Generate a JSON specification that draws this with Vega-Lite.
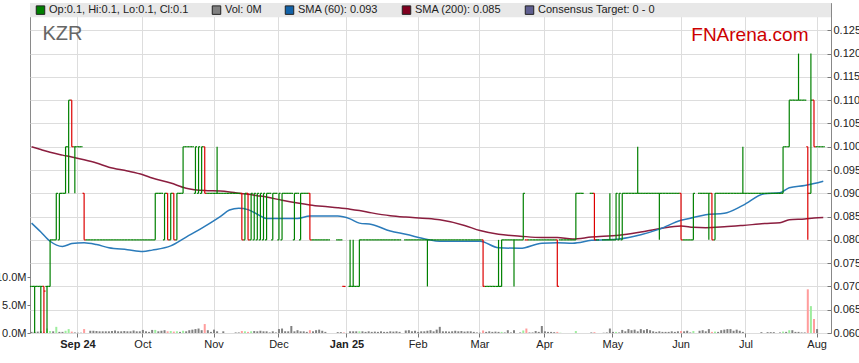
{
"$schema":"https://vega.github.io/schema/vega-lite/v6.json",
"width":801,"height":330,
"autosize":{"type":"none"},
"padding":{"left":30,"top":3,"right":28,"bottom":30},
"background":"white",
"datasets":{
"px":[
{"d":"2024-08-12","o":0.07,"h":0.07,"l":0.07,"c":0.07,"v":0.2},
{"d":"2024-08-13","o":0.07,"h":0.07,"l":0.06,"c":0.07,"v":0.2},
{"d":"2024-08-14","o":0.07,"h":0.07,"l":0.07,"c":0.07,"v":0.25},
{"d":"2024-08-15","o":0.07,"h":0.07,"l":0.06,"c":0.07,"v":0.3},
{"d":"2024-08-16","o":0.07,"h":0.07,"l":0.06,"c":0.069,"v":0.2},
{"d":"2024-08-19","o":0.07,"h":0.07,"l":0.06,"c":0.07,"v":0.8},
{"d":"2024-08-20","o":0.07,"h":0.08,"l":0.07,"c":0.08,"v":0.35},
{"d":"2024-08-21","o":0.08,"h":0.08,"l":0.08,"c":0.08,"v":0.3},
{"d":"2024-08-22","o":0.08,"h":0.09,"l":0.08,"c":0.09,"v":1.1},
{"d":"2024-08-23","o":0.08,"h":0.09,"l":0.08,"c":0.09,"v":0.2},
{"d":"2024-08-26","o":0.09,"h":0.09,"l":0.09,"c":0.09,"v":0.2},
{"d":"2024-08-27","o":0.09,"h":0.1,"l":0.09,"c":0.1,"v":0.4},
{"d":"2024-08-28","o":0.1,"h":0.11,"l":0.09,"c":0.11,"v":0.7},
{"d":"2024-08-29","o":0.11,"h":0.11,"l":0.1,"c":0.1,"v":0.25},
{"d":"2024-08-30","o":0.1,"h":0.1,"l":0.09,"c":0.1,"v":0.1},
{"d":"2024-09-02","o":0.1,"h":0.1,"l":0.1,"c":0.1,"v":0.05},
{"d":"2024-09-03","o":0.1,"h":0.1,"l":0.1,"c":0.1,"v":0.05},
{"d":"2024-09-04","o":0.09,"h":0.09,"l":0.08,"c":0.08,"v":0.7},
{"d":"2024-09-05","o":0.08,"h":0.08,"l":0.08,"c":0.08,"v":0},
{"d":"2024-09-06","o":0.08,"h":0.08,"l":0.08,"c":0.08,"v":0.4},
{"d":"2024-09-09","o":0.08,"h":0.08,"l":0.08,"c":0.08,"v":0.4},
{"d":"2024-09-10","o":0.08,"h":0.08,"l":0.08,"c":0.08,"v":0.35},
{"d":"2024-09-11","o":0.08,"h":0.08,"l":0.08,"c":0.08,"v":0.3},
{"d":"2024-09-12","o":0.08,"h":0.08,"l":0.08,"c":0.08,"v":0.3},
{"d":"2024-09-13","o":0.08,"h":0.08,"l":0.08,"c":0.08,"v":0.3},
{"d":"2024-09-16","o":0.08,"h":0.08,"l":0.08,"c":0.08,"v":0.3},
{"d":"2024-09-17","o":0.08,"h":0.08,"l":0.08,"c":0.08,"v":0.35},
{"d":"2024-09-18","o":0.08,"h":0.08,"l":0.08,"c":0.08,"v":0.45},
{"d":"2024-09-19","o":0.08,"h":0.08,"l":0.08,"c":0.08,"v":0.3},
{"d":"2024-09-20","o":0.08,"h":0.08,"l":0.08,"c":0.08,"v":0.3},
{"d":"2024-09-23","o":0.08,"h":0.08,"l":0.08,"c":0.08,"v":0.35},
{"d":"2024-09-24","o":0.08,"h":0.08,"l":0.08,"c":0.08,"v":0.3},
{"d":"2024-09-25","o":0.08,"h":0.08,"l":0.08,"c":0.08,"v":0.3},
{"d":"2024-09-26","o":0.08,"h":0.08,"l":0.08,"c":0.08,"v":0.45},
{"d":"2024-09-27","o":0.08,"h":0.08,"l":0.08,"c":0.08,"v":0.3},
{"d":"2024-09-30","o":0.08,"h":0.08,"l":0.08,"c":0.08,"v":0.3},
{"d":"2024-10-01","o":0.08,"h":0.08,"l":0.08,"c":0.08,"v":0.55},
{"d":"2024-10-02","o":0.08,"h":0.08,"l":0.08,"c":0.08,"v":0.3},
{"d":"2024-10-03","o":0.08,"h":0.08,"l":0.08,"c":0.08,"v":0.2},
{"d":"2024-10-04","o":0.08,"h":0.08,"l":0.08,"c":0.08,"v":0.55},
{"d":"2024-10-07","o":0.08,"h":0.09,"l":0.08,"c":0.09,"v":0.55},
{"d":"2024-10-08","o":0.09,"h":0.09,"l":0.09,"c":0.09,"v":0.3},
{"d":"2024-10-09","o":0.09,"h":0.09,"l":0.09,"c":0.09,"v":0.4},
{"d":"2024-10-10","o":0.08,"h":0.09,"l":0.08,"c":0.09,"v":0.5},
{"d":"2024-10-11","o":0.09,"h":0.09,"l":0.08,"c":0.08,"v":0.3},
{"d":"2024-10-14","o":0.08,"h":0.09,"l":0.08,"c":0.09,"v":0.35},
{"d":"2024-10-15","o":0.09,"h":0.09,"l":0.08,"c":0.08,"v":0.25},
{"d":"2024-10-16","o":0.08,"h":0.09,"l":0.08,"c":0.09,"v":0.3},
{"d":"2024-10-17","o":0.09,"h":0.09,"l":0.09,"c":0.09,"v":0.2},
{"d":"2024-10-18","o":0.09,"h":0.1,"l":0.09,"c":0.1,"v":0.4},
{"d":"2024-10-21","o":0.1,"h":0.1,"l":0.1,"c":0.1,"v":0.3},
{"d":"2024-10-22","o":0.1,"h":0.1,"l":0.1,"c":0.1,"v":0.5},
{"d":"2024-10-23","o":0.1,"h":0.1,"l":0.1,"c":0.1,"v":0.6},
{"d":"2024-10-24","o":0.09,"h":0.1,"l":0.09,"c":0.1,"v":0.7},
{"d":"2024-10-25","o":0.09,"h":0.1,"l":0.09,"c":0.1,"v":0.8},
{"d":"2024-10-28","o":0.09,"h":0.1,"l":0.09,"c":0.1,"v":0.5},
{"d":"2024-10-29","o":0.1,"h":0.1,"l":0.09,"c":0.09,"v":1.6},
{"d":"2024-10-30","o":0.09,"h":0.09,"l":0.09,"c":0.09,"v":0.5},
{"d":"2024-10-31","o":0.09,"h":0.09,"l":0.09,"c":0.09,"v":0.2},
{"d":"2024-11-01","o":0.09,"h":0.09,"l":0.09,"c":0.09,"v":0.6},
{"d":"2024-11-04","o":0.09,"h":0.1,"l":0.09,"c":0.09,"v":0.3},
{"d":"2024-11-05","o":0.09,"h":0.09,"l":0.09,"c":0.09,"v":0},
{"d":"2024-11-06","o":0.09,"h":0.09,"l":0.09,"c":0.09,"v":0.3},
{"d":"2024-11-07","o":0.09,"h":0.09,"l":0.09,"c":0.09,"v":0},
{"d":"2024-11-08","o":0.09,"h":0.09,"l":0.09,"c":0.09,"v":0},
{"d":"2024-11-11","o":0.09,"h":0.09,"l":0.09,"c":0.09,"v":0},
{"d":"2024-11-12","o":0.09,"h":0.09,"l":0.09,"c":0.09,"v":0.1},
{"d":"2024-11-13","o":0.09,"h":0.09,"l":0.09,"c":0.09,"v":0.1},
{"d":"2024-11-14","o":0.09,"h":0.09,"l":0.08,"c":0.08,"v":0.35},
{"d":"2024-11-15","o":0.08,"h":0.09,"l":0.08,"c":0.09,"v":0.3},
{"d":"2024-11-18","o":0.09,"h":0.09,"l":0.08,"c":0.08,"v":0.2},
{"d":"2024-11-19","o":0.08,"h":0.09,"l":0.08,"c":0.09,"v":0.3},
{"d":"2024-11-20","o":0.08,"h":0.09,"l":0.08,"c":0.09,"v":0.35},
{"d":"2024-11-21","o":0.08,"h":0.09,"l":0.08,"c":0.09,"v":0.3},
{"d":"2024-11-22","o":0.08,"h":0.09,"l":0.08,"c":0.09,"v":0.4},
{"d":"2024-11-25","o":0.08,"h":0.09,"l":0.08,"c":0.09,"v":0.3},
{"d":"2024-11-26","o":0.08,"h":0.09,"l":0.08,"c":0.09,"v":0.3},
{"d":"2024-11-27","o":0.09,"h":0.09,"l":0.09,"c":0.09,"v":0.1},
{"d":"2024-11-28","o":0.08,"h":0.09,"l":0.08,"c":0.09,"v":0.3},
{"d":"2024-11-29","o":0.09,"h":0.09,"l":0.09,"c":0.09,"v":0.1},
{"d":"2024-12-02","o":0.08,"h":0.09,"l":0.08,"c":0.09,"v":0.7},
{"d":"2024-12-03","o":0.08,"h":0.09,"l":0.08,"c":0.09,"v":0.8},
{"d":"2024-12-04","o":0.09,"h":0.09,"l":0.09,"c":0.09,"v":0.3},
{"d":"2024-12-05","o":0.09,"h":0.09,"l":0.09,"c":0.09,"v":0.3},
{"d":"2024-12-06","o":0.09,"h":0.09,"l":0.09,"c":0.09,"v":1.25},
{"d":"2024-12-09","o":0.08,"h":0.09,"l":0.08,"c":0.09,"v":0.3},
{"d":"2024-12-10","o":0.09,"h":0.09,"l":0.09,"c":0.09,"v":0.5},
{"d":"2024-12-11","o":0.08,"h":0.09,"l":0.08,"c":0.09,"v":0.3},
{"d":"2024-12-12","o":0.09,"h":0.09,"l":0.09,"c":0.09,"v":0.3},
{"d":"2024-12-13","o":0.09,"h":0.09,"l":0.09,"c":0.09,"v":0.2},
{"d":"2024-12-16","o":0.09,"h":0.09,"l":0.08,"c":0.08,"v":0.5},
{"d":"2024-12-17","o":0.08,"h":0.08,"l":0.08,"c":0.08,"v":0.3},
{"d":"2024-12-18","o":0.08,"h":0.08,"l":0.08,"c":0.08,"v":0.5},
{"d":"2024-12-19","o":0.08,"h":0.08,"l":0.08,"c":0.08,"v":0.6},
{"d":"2024-12-20","o":0.08,"h":0.08,"l":0.08,"c":0.08,"v":0.4},
{"d":"2024-12-23","o":0.08,"h":0.08,"l":0.08,"c":0.08,"v":0.2},
{"d":"2024-12-24","o":0.08,"h":0.08,"l":0.08,"c":0.08,"v":0},
{"d":"2024-12-25","v":0},
{"d":"2024-12-26","v":0},
{"d":"2024-12-27","o":0.08,"h":0.08,"l":0.08,"c":0.08,"v":0.15},
{"d":"2024-12-30","o":0.08,"h":0.08,"l":0.08,"c":0.08,"v":0.15},
{"d":"2024-12-31","o":0.07,"h":0.07,"l":0.07,"c":0.07,"v":0.1},
{"d":"2025-01-01","v":0},
{"d":"2025-01-02","o":0.07,"h":0.08,"l":0.07,"c":0.07,"v":0.3},
{"d":"2025-01-03","o":0.07,"h":0.08,"l":0.07,"c":0.07,"v":0.3},
{"d":"2025-01-06","o":0.07,"h":0.07,"l":0.07,"c":0.07,"v":0.3},
{"d":"2025-01-07","o":0.07,"h":0.08,"l":0.07,"c":0.08,"v":0.3},
{"d":"2025-01-08","o":0.08,"h":0.08,"l":0.08,"c":0.08,"v":0.3},
{"d":"2025-01-09","o":0.08,"h":0.08,"l":0.08,"c":0.08,"v":0.2},
{"d":"2025-01-10","o":0.08,"h":0.08,"l":0.08,"c":0.08,"v":0.3},
{"d":"2025-01-13","o":0.08,"h":0.08,"l":0.08,"c":0.08,"v":0.2},
{"d":"2025-01-14","o":0.08,"h":0.08,"l":0.08,"c":0.08,"v":0.25},
{"d":"2025-01-15","o":0.08,"h":0.08,"l":0.08,"c":0.08,"v":0.2},
{"d":"2025-01-16","o":0.08,"h":0.08,"l":0.08,"c":0.08,"v":0.3},
{"d":"2025-01-17","o":0.08,"h":0.08,"l":0.08,"c":0.08,"v":0.2},
{"d":"2025-01-20","o":0.08,"h":0.08,"l":0.08,"c":0.08,"v":0.2},
{"d":"2025-01-21","o":0.08,"h":0.08,"l":0.08,"c":0.08,"v":0.3},
{"d":"2025-01-22","o":0.08,"h":0.08,"l":0.08,"c":0.08,"v":0.25},
{"d":"2025-01-23","o":0.08,"h":0.08,"l":0.08,"c":0.08,"v":0.3},
{"d":"2025-01-24","o":0.08,"h":0.08,"l":0.08,"c":0.08,"v":0.2},
{"d":"2025-01-27","v":0},
{"d":"2025-01-28","o":0.08,"h":0.08,"l":0.08,"c":0.08,"v":0.45},
{"d":"2025-01-29","o":0.08,"h":0.08,"l":0.08,"c":0.08,"v":0.5},
{"d":"2025-01-30","o":0.08,"h":0.08,"l":0.08,"c":0.08,"v":0.3},
{"d":"2025-01-31","o":0.08,"h":0.08,"l":0.08,"c":0.08,"v":0.4},
{"d":"2025-02-03","o":0.08,"h":0.08,"l":0.08,"c":0.08,"v":0.2},
{"d":"2025-02-04","o":0.08,"h":0.08,"l":0.08,"c":0.08,"v":0.3},
{"d":"2025-02-05","o":0.08,"h":0.08,"l":0.08,"c":0.08,"v":0.3},
{"d":"2025-02-06","o":0.08,"h":0.08,"l":0.07,"c":0.08,"v":0.4},
{"d":"2025-02-07","o":0.08,"h":0.08,"l":0.08,"c":0.08,"v":0.5},
{"d":"2025-02-10","o":0.08,"h":0.08,"l":0.08,"c":0.08,"v":0.3},
{"d":"2025-02-11","o":0.08,"h":0.08,"l":0.08,"c":0.08,"v":0.6},
{"d":"2025-02-12","o":0.08,"h":0.08,"l":0.08,"c":0.08,"v":1.1},
{"d":"2025-02-13","o":0.08,"h":0.08,"l":0.08,"c":0.08,"v":0.3},
{"d":"2025-02-14","o":0.08,"h":0.08,"l":0.08,"c":0.08,"v":0.3},
{"d":"2025-02-17","o":0.08,"h":0.08,"l":0.08,"c":0.08,"v":0.25},
{"d":"2025-02-18","o":0.08,"h":0.08,"l":0.08,"c":0.08,"v":0.3},
{"d":"2025-02-19","o":0.08,"h":0.08,"l":0.08,"c":0.08,"v":0.4},
{"d":"2025-02-20","o":0.08,"h":0.08,"l":0.08,"c":0.08,"v":0.3},
{"d":"2025-02-21","o":0.08,"h":0.08,"l":0.08,"c":0.08,"v":0.35},
{"d":"2025-02-24","o":0.08,"h":0.08,"l":0.08,"c":0.08,"v":0.25},
{"d":"2025-02-25","o":0.08,"h":0.08,"l":0.08,"c":0.08,"v":0.3},
{"d":"2025-02-26","o":0.08,"h":0.08,"l":0.08,"c":0.08,"v":0.3},
{"d":"2025-02-27","o":0.08,"h":0.08,"l":0.08,"c":0.08,"v":0.2},
{"d":"2025-02-28","o":0.08,"h":0.08,"l":0.08,"c":0.08,"v":0.1},
{"d":"2025-03-03","o":0.08,"h":0.08,"l":0.08,"c":0.08,"v":0.05},
{"d":"2025-03-04","o":0.08,"h":0.08,"l":0.07,"c":0.07,"v":0.45},
{"d":"2025-03-05","o":0.07,"h":0.07,"l":0.07,"c":0.07,"v":0.2},
{"d":"2025-03-06","o":0.07,"h":0.07,"l":0.07,"c":0.07,"v":0.3},
{"d":"2025-03-07","o":0.07,"h":0.07,"l":0.07,"c":0.07,"v":0.2},
{"d":"2025-03-10","o":0.07,"h":0.07,"l":0.07,"c":0.07,"v":0.25},
{"d":"2025-03-11","o":0.07,"h":0.08,"l":0.07,"c":0.07,"v":0.2},
{"d":"2025-03-12","o":0.07,"h":0.08,"l":0.07,"c":0.08,"v":0.2},
{"d":"2025-03-13","o":0.08,"h":0.08,"l":0.08,"c":0.08,"v":0.1},
{"d":"2025-03-14","o":0.08,"h":0.08,"l":0.08,"c":0.08,"v":0.5},
{"d":"2025-03-17","o":0.08,"h":0.08,"l":0.08,"c":0.08,"v":0.1},
{"d":"2025-03-18","o":0.08,"h":0.08,"l":0.07,"c":0.08,"v":0.5},
{"d":"2025-03-19","o":0.08,"h":0.08,"l":0.08,"c":0.08,"v":0},
{"d":"2025-03-20","o":0.08,"h":0.08,"l":0.08,"c":0.08,"v":0.1},
{"d":"2025-03-21","o":0.08,"h":0.09,"l":0.08,"c":0.09,"v":0.45},
{"d":"2025-03-24","o":0.08,"h":0.08,"l":0.08,"c":0.08,"v":0.8},
{"d":"2025-03-25","o":0.08,"h":0.08,"l":0.08,"c":0.08,"v":0.1},
{"d":"2025-03-26","o":0.08,"h":0.08,"l":0.08,"c":0.08,"v":0.1},
{"d":"2025-03-27","o":0.08,"h":0.08,"l":0.08,"c":0.08,"v":0.35},
{"d":"2025-03-28","o":0.08,"h":0.08,"l":0.08,"c":0.08,"v":0.2},
{"d":"2025-03-31","o":0.08,"h":0.08,"l":0.08,"c":0.08,"v":1.25},
{"d":"2025-04-01","o":0.08,"h":0.08,"l":0.08,"c":0.08,"v":0.3},
{"d":"2025-04-02","o":0.08,"h":0.08,"l":0.08,"c":0.08,"v":0.2},
{"d":"2025-04-03","o":0.08,"h":0.08,"l":0.08,"c":0.08,"v":0.2},
{"d":"2025-04-04","o":0.08,"h":0.08,"l":0.08,"c":0.08,"v":0.15},
{"d":"2025-04-07","o":0.08,"h":0.08,"l":0.07,"c":0.07,"v":0.2},
{"d":"2025-04-08","o":0.08,"h":0.08,"l":0.08,"c":0.08,"v":0.05},
{"d":"2025-04-09","o":0.08,"h":0.08,"l":0.08,"c":0.08,"v":0},
{"d":"2025-04-10","o":0.08,"h":0.08,"l":0.08,"c":0.08,"v":0},
{"d":"2025-04-11","o":0.08,"h":0.08,"l":0.08,"c":0.08,"v":0},
{"d":"2025-04-14","o":0.08,"h":0.08,"l":0.08,"c":0.08,"v":0},
{"d":"2025-04-15","o":0.08,"h":0.09,"l":0.08,"c":0.09,"v":0.35},
{"d":"2025-04-16","o":0.09,"h":0.09,"l":0.09,"c":0.09,"v":0},
{"d":"2025-04-17","o":0.09,"h":0.09,"l":0.09,"c":0.09,"v":0},
{"d":"2025-04-18","v":0},
{"d":"2025-04-21","v":0},
{"d":"2025-04-22","o":0.09,"h":0.09,"l":0.09,"c":0.09,"v":0.1},
{"d":"2025-04-23","o":0.09,"h":0.09,"l":0.08,"c":0.08,"v":0.15},
{"d":"2025-04-24","o":0.08,"h":0.08,"l":0.08,"c":0.08,"v":0},
{"d":"2025-04-25","v":0},
{"d":"2025-04-28","o":0.08,"h":0.08,"l":0.08,"c":0.08,"v":0.05},
{"d":"2025-04-29","o":0.08,"h":0.08,"l":0.08,"c":0.08,"v":0.1},
{"d":"2025-04-30","o":0.08,"h":0.09,"l":0.08,"c":0.08,"v":0.8},
{"d":"2025-05-01","o":0.08,"h":0.08,"l":0.08,"c":0.08,"v":0.2},
{"d":"2025-05-02","o":0.08,"h":0.09,"l":0.08,"c":0.09,"v":0.2},
{"d":"2025-05-05","o":0.08,"h":0.09,"l":0.08,"c":0.09,"v":0.1},
{"d":"2025-05-06","o":0.08,"h":0.09,"l":0.08,"c":0.09,"v":0.55},
{"d":"2025-05-07","o":0.09,"h":0.09,"l":0.09,"c":0.09,"v":0.3},
{"d":"2025-05-08","o":0.09,"h":0.09,"l":0.09,"c":0.09,"v":0.7},
{"d":"2025-05-09","o":0.09,"h":0.09,"l":0.09,"c":0.09,"v":0.5},
{"d":"2025-05-12","o":0.09,"h":0.09,"l":0.09,"c":0.09,"v":0.6},
{"d":"2025-05-13","o":0.09,"h":0.1,"l":0.09,"c":0.09,"v":0.3},
{"d":"2025-05-14","o":0.09,"h":0.09,"l":0.09,"c":0.09,"v":0.7},
{"d":"2025-05-15","o":0.09,"h":0.09,"l":0.09,"c":0.09,"v":0.5},
{"d":"2025-05-16","o":0.09,"h":0.09,"l":0.09,"c":0.09,"v":0.7},
{"d":"2025-05-19","o":0.09,"h":0.09,"l":0.09,"c":0.09,"v":0.5},
{"d":"2025-05-20","o":0.09,"h":0.09,"l":0.09,"c":0.09,"v":0.3},
{"d":"2025-05-21","o":0.09,"h":0.09,"l":0.09,"c":0.09,"v":0.2},
{"d":"2025-05-22","o":0.09,"h":0.09,"l":0.08,"c":0.09,"v":0.3},
{"d":"2025-05-23","o":0.09,"h":0.09,"l":0.09,"c":0.09,"v":0.2},
{"d":"2025-05-26","o":0.09,"h":0.09,"l":0.09,"c":0.09,"v":0.2},
{"d":"2025-05-27","o":0.09,"h":0.09,"l":0.09,"c":0.09,"v":0.2},
{"d":"2025-05-28","o":0.09,"h":0.09,"l":0.09,"c":0.09,"v":0.3},
{"d":"2025-05-29","o":0.09,"h":0.09,"l":0.09,"c":0.09,"v":0.2},
{"d":"2025-05-30","o":0.09,"h":0.09,"l":0.09,"c":0.09,"v":0.3},
{"d":"2025-06-02","o":0.09,"h":0.09,"l":0.08,"c":0.08,"v":0.35},
{"d":"2025-06-03","o":0.08,"h":0.08,"l":0.08,"c":0.08,"v":0.3},
{"d":"2025-06-04","o":0.08,"h":0.08,"l":0.08,"c":0.08,"v":0.4},
{"d":"2025-06-05","o":0.08,"h":0.08,"l":0.08,"c":0.08,"v":0.1},
{"d":"2025-06-06","o":0.08,"h":0.09,"l":0.08,"c":0.09,"v":0.35},
{"d":"2025-06-09","v":0},
{"d":"2025-06-10","o":0.09,"h":0.09,"l":0.09,"c":0.09,"v":0.4},
{"d":"2025-06-11","o":0.09,"h":0.09,"l":0.09,"c":0.09,"v":0.5},
{"d":"2025-06-12","o":0.09,"h":0.09,"l":0.09,"c":0.09,"v":0.3},
{"d":"2025-06-13","o":0.09,"h":0.09,"l":0.08,"c":0.09,"v":0.7},
{"d":"2025-06-16","o":0.09,"h":0.09,"l":0.08,"c":0.08,"v":0.2},
{"d":"2025-06-17","o":0.08,"h":0.09,"l":0.08,"c":0.09,"v":0.25},
{"d":"2025-06-18","o":0.09,"h":0.09,"l":0.09,"c":0.09,"v":0.2},
{"d":"2025-06-19","o":0.09,"h":0.09,"l":0.09,"c":0.09,"v":0.5},
{"d":"2025-06-20","o":0.09,"h":0.09,"l":0.09,"c":0.09,"v":0.6},
{"d":"2025-06-23","o":0.09,"h":0.09,"l":0.09,"c":0.09,"v":0.7},
{"d":"2025-06-24","o":0.09,"h":0.09,"l":0.09,"c":0.09,"v":0.7},
{"d":"2025-06-25","o":0.09,"h":0.09,"l":0.09,"c":0.09,"v":0.4},
{"d":"2025-06-26","o":0.09,"h":0.09,"l":0.09,"c":0.09,"v":0.6},
{"d":"2025-06-27","o":0.09,"h":0.09,"l":0.09,"c":0.09,"v":0.4},
{"d":"2025-06-30","o":0.09,"h":0.1,"l":0.09,"c":0.09,"v":0.2},
{"d":"2025-07-01","o":0.09,"h":0.09,"l":0.09,"c":0.09,"v":0},
{"d":"2025-07-02","o":0.09,"h":0.09,"l":0.09,"c":0.09,"v":0},
{"d":"2025-07-03","o":0.09,"h":0.09,"l":0.09,"c":0.09,"v":0},
{"d":"2025-07-04","o":0.09,"h":0.09,"l":0.09,"c":0.09,"v":0},
{"d":"2025-07-07","o":0.09,"h":0.09,"l":0.09,"c":0.09,"v":0},
{"d":"2025-07-08","o":0.09,"h":0.09,"l":0.09,"c":0.09,"v":0.15},
{"d":"2025-07-09","o":0.09,"h":0.09,"l":0.09,"c":0.09,"v":0},
{"d":"2025-07-10","o":0.09,"h":0.09,"l":0.09,"c":0.09,"v":0.15},
{"d":"2025-07-11","o":0.09,"h":0.09,"l":0.09,"c":0.09,"v":0.15},
{"d":"2025-07-14","o":0.09,"h":0.09,"l":0.09,"c":0.09,"v":0.15},
{"d":"2025-07-15","o":0.09,"h":0.09,"l":0.09,"c":0.09,"v":0},
{"d":"2025-07-16","o":0.09,"h":0.09,"l":0.09,"c":0.09,"v":0.1},
{"d":"2025-07-17","o":0.09,"h":0.1,"l":0.09,"c":0.1,"v":0.25},
{"d":"2025-07-18","o":0.1,"h":0.1,"l":0.1,"c":0.1,"v":0.2},
{"d":"2025-07-21","o":0.1,"h":0.11,"l":0.1,"c":0.11,"v":0.5},
{"d":"2025-07-22","o":0.11,"h":0.11,"l":0.11,"c":0.11,"v":0.5},
{"d":"2025-07-23","o":0.11,"h":0.11,"l":0.11,"c":0.11,"v":0.2},
{"d":"2025-07-24","o":0.11,"h":0.12,"l":0.11,"c":0.11,"v":0.2},
{"d":"2025-07-25","o":0.11,"h":0.11,"l":0.11,"c":0.11,"v":0.1},
{"d":"2025-07-28","o":0.11,"h":0.11,"l":0.11,"c":0.11,"v":0.1},
{"d":"2025-07-29","o":0.1,"h":0.1,"l":0.08,"c":0.09,"v":7.8},
{"d":"2025-07-30","o":0.09,"h":0.12,"l":0.09,"c":0.11,"v":4.8},
{"d":"2025-07-31","o":0.11,"h":0.11,"l":0.1,"c":0.1,"v":2.5},
{"d":"2025-08-01","o":0.1,"h":0.1,"l":0.1,"c":0.1,"v":0.7},
{"d":"2025-08-04","o":0.1,"h":0.1,"l":0.1,"c":0.1,"v":0},
{"d":"2025-08-05","o":0.1,"h":0.1,"l":0.1,"c":0.1,"v":0}
],
"sma":[
{"d":"2024-08-12","a":0.0836,"b":0.1},
{"d":"2024-08-15","a":0.0817,"b":0.0994},
{"d":"2024-08-20","a":0.0797,"b":0.0988},
{"d":"2024-08-26","a":0.0786,"b":0.0982},
{"d":"2024-08-29","a":0.0792,"b":0.0978},
{"d":"2024-09-04","a":0.0794,"b":0.0972},
{"d":"2024-09-10","a":0.079,"b":0.0965},
{"d":"2024-09-16","a":0.0783,"b":0.0956},
{"d":"2024-09-24","a":0.0779,"b":0.0948},
{"d":"2024-10-01","a":0.0775,"b":0.094},
{"d":"2024-10-04","a":0.0778,"b":0.0933},
{"d":"2024-10-14","a":0.0787,"b":0.0922},
{"d":"2024-10-21","a":0.0806,"b":0.0911},
{"d":"2024-10-29","a":0.0829,"b":0.0906},
{"d":"2024-11-05","a":0.085,"b":0.0905},
{"d":"2024-11-08","a":0.0864,"b":0.0903},
{"d":"2024-11-13","a":0.0868,"b":0.09},
{"d":"2024-11-18","a":0.0865,"b":0.0898},
{"d":"2024-11-21","a":0.0855,"b":0.0895},
{"d":"2024-11-26","a":0.0846,"b":0.0892},
{"d":"2024-12-03","a":0.0846,"b":0.0885},
{"d":"2024-12-10","a":0.0846,"b":0.0879},
{"d":"2024-12-16","a":0.0851,"b":0.0875},
{"d":"2024-12-20","a":0.0851,"b":0.0872},
{"d":"2024-12-27","a":0.0851,"b":0.0869},
{"d":"2025-01-02","a":0.0845,"b":0.0866},
{"d":"2025-01-07","a":0.0836,"b":0.0863},
{"d":"2025-01-13","a":0.0833,"b":0.0858},
{"d":"2025-01-21","a":0.0819,"b":0.0852},
{"d":"2025-01-28","a":0.0812,"b":0.0849},
{"d":"2025-02-06","a":0.0801,"b":0.0846},
{"d":"2025-02-12","a":0.0797,"b":0.0843},
{"d":"2025-02-24","a":0.0797,"b":0.0831},
{"d":"2025-03-03","a":0.0797,"b":0.082},
{"d":"2025-03-11","a":0.0783,"b":0.0812},
{"d":"2025-03-20","a":0.0782,"b":0.0808},
{"d":"2025-03-31","a":0.0793,"b":0.0805},
{"d":"2025-04-07","a":0.0794,"b":0.0805},
{"d":"2025-04-14","a":0.0793,"b":0.0802},
{"d":"2025-04-22","a":0.0799,"b":0.0806},
{"d":"2025-05-05","a":0.0802,"b":0.081},
{"d":"2025-05-14","a":0.0811,"b":0.0817},
{"d":"2025-05-22","a":0.0823,"b":0.0824},
{"d":"2025-06-02","a":0.0842,"b":0.083},
{"d":"2025-06-06","a":0.0848,"b":0.0827},
{"d":"2025-06-12","a":0.0854,"b":0.0826},
{"d":"2025-06-20","a":0.0857,"b":0.0828},
{"d":"2025-06-30","a":0.0874,"b":0.0831},
{"d":"2025-07-09","a":0.0899,"b":0.0835},
{"d":"2025-07-16","a":0.0901,"b":0.0837},
{"d":"2025-07-21","a":0.0912,"b":0.0843},
{"d":"2025-07-28","a":0.0917,"b":0.0845},
{"d":"2025-07-31","a":0.0921,"b":0.0847},
{"d":"2025-08-05","a":0.0926,"b":0.0848}
],
"band":[{"b":0.1278,"t":0.13087}],
"leg":[
{"k":"Op:0.1, Hi:0.1, Lo:0.1, Cl:0.1"},
{"k":"Vol: 0M"},
{"k":"SMA (60): 0.093"},
{"k":"SMA (200): 0.085"},
{"k":"Consensus Target: 0 - 0"}
]
},
"layer":[
{
"data":{"name":"px"},
"transform":[{"window":[{"op":"lag","field":"c","as":"pc"}],"sort":[{"field":"d","order":"ascending"}]}],
"mark":{"type":"bar","width":{"band":0.65}},
"encoding":{
"x":{"field":"d","type":"ordinal","title":null,
"scale":{"paddingInner":0,"paddingOuter":1.675,"align":0,"round":false},
"axis":{"values":["2024-09-02","2024-10-01","2024-11-01","2024-12-02","2025-01-01","2025-02-03","2025-03-03","2025-04-01","2025-05-01","2025-06-02","2025-07-01","2025-08-01"],
"labelExpr":"datum.value == '2024-09-02' ? 'Sep 24' : datum.value == '2025-01-01' ? 'Jan 25' : utcFormat(toDate(datum.value + 'T00:00:00Z'), '%b')",
"labelFontWeight":{"condition":{"test":"datum.value == '2024-09-02' || datum.value == '2025-01-01'","value":"bold"},"value":"normal"},
"labelAngle":0,"labelAlign":"center","labelBaseline":"top","grid":true,"domain":false,"tickSize":4,"labelPadding":1,"labelOverlap":false}},
"y":{"field":"v","type":"quantitative","scale":{"domain":[0,58.93],"nice":false,"zero":true},
"axis":{"orient":"left","values":[0,5,10],"labelExpr":"format(datum.value, '.1f') + 'M'","grid":false,"domain":false,"tickSize":3,"labelPadding":1,
"title":"KZR","titleX":12,"titleY":36,"titleAngle":0,"titleAlign":"left","titleBaseline":"alphabetic","titleFontSize":20,"titleFontWeight":"normal","titleColor":"#666666"}},
"color":{"condition":[{"test":"datum.pc != null && datum.c > datum.pc","value":"#9ded9d"},{"test":"datum.pc != null && datum.c < datum.pc","value":"#ff9d9d"}],"value":"#808080"}
}
},
{
"layer":[
{
"data":{"name":"band"},
"mark":{"type":"rect","color":"#e8e8e8"},
"encoding":{
"y":{"field":"b","type":"quantitative","scale":{"domain":[0.06,0.13087],"nice":false,"zero":false},
"axis":{"orient":"right","values":[0.06,0.065,0.07,0.075,0.08,0.085,0.09,0.095,0.1,0.105,0.11,0.115,0.12,0.125],"format":".3f","grid":true,"tickSize":-4,"labelPadding":6,
"title":"FNArena.com","titleX":-23,"titleY":37,"titleAngle":0,"titleAlign":"right","titleBaseline":"alphabetic","titleFontSize":19,"titleFontWeight":"normal","titleColor":"#cc0000"}},
"y2":{"field":"t"}
}
},
{
"data":{"name":"sma"},
"mark":{"type":"line","color":"#8b1e3f","strokeWidth":1.5,"interpolate":"monotone"},
"encoding":{
"x":{"field":"d","type":"ordinal","title":null},
"y":{"field":"b","type":"quantitative","scale":{"domain":[0.06,0.13087],"nice":false,"zero":false},
"axis":{"orient":"right","values":[0.06,0.065,0.07,0.075,0.08,0.085,0.09,0.095,0.1,0.105,0.11,0.115,0.12,0.125],"format":".3f","grid":true,"tickSize":-4,"labelPadding":6,
"title":"FNArena.com","titleX":-23,"titleY":37,"titleAngle":0,"titleAlign":"right","titleBaseline":"alphabetic","titleFontSize":19,"titleFontWeight":"normal","titleColor":"#cc0000"}}
}
},
{
"data":{"name":"sma"},
"mark":{"type":"line","color":"#2b7bba","strokeWidth":1.5,"interpolate":"monotone"},
"encoding":{
"x":{"field":"d","type":"ordinal","title":null},
"y":{"field":"a","type":"quantitative","scale":{"domain":[0.06,0.13087],"nice":false,"zero":false},
"axis":{"orient":"right","values":[0.06,0.065,0.07,0.075,0.08,0.085,0.09,0.095,0.1,0.105,0.11,0.115,0.12,0.125],"format":".3f","grid":true,"tickSize":-4,"labelPadding":6,
"title":"FNArena.com","titleX":-23,"titleY":37,"titleAngle":0,"titleAlign":"right","titleBaseline":"alphabetic","titleFontSize":19,"titleFontWeight":"normal","titleColor":"#cc0000"}}
}
},
{
"data":{"name":"px"},
"transform":[{"filter":"isValid(datum.c)"},{"window":[{"op":"lag","field":"c","as":"pc"}],"sort":[{"field":"d","order":"ascending"}]}],
"layer":[
{
"mark":{"type":"rule","strokeWidth":1.2},
"encoding":{
"x":{"field":"d","type":"ordinal","title":null},
"y":{"field":"l","type":"quantitative","scale":{"domain":[0.06,0.13087],"nice":false,"zero":false},
"axis":{"orient":"right","values":[0.06,0.065,0.07,0.075,0.08,0.085,0.09,0.095,0.1,0.105,0.11,0.115,0.12,0.125],"format":".3f","grid":true,"tickSize":-4,"labelPadding":6,
"title":"FNArena.com","titleX":-23,"titleY":37,"titleAngle":0,"titleAlign":"right","titleBaseline":"alphabetic","titleFontSize":19,"titleFontWeight":"normal","titleColor":"#cc0000"}},
"y2":{"field":"h"},
"color":{"condition":{"test":"datum.pc != null && datum.c < datum.pc","value":"#dd0000"},"value":"#008000"}
}
},
{
"mark":{"type":"rule","strokeWidth":1.2,"xOffset":-1.6},
"encoding":{
"x":{"field":"d","type":"ordinal","title":null},
"x2":{"field":"d"},
"y":{"field":"o","type":"quantitative","scale":{"domain":[0.06,0.13087],"nice":false,"zero":false},
"axis":{"orient":"right","values":[0.06,0.065,0.07,0.075,0.08,0.085,0.09,0.095,0.1,0.105,0.11,0.115,0.12,0.125],"format":".3f","grid":true,"tickSize":-4,"labelPadding":6,
"title":"FNArena.com","titleX":-23,"titleY":37,"titleAngle":0,"titleAlign":"right","titleBaseline":"alphabetic","titleFontSize":19,"titleFontWeight":"normal","titleColor":"#cc0000"}},
"color":{"condition":{"test":"datum.pc != null && datum.c < datum.pc","value":"#dd0000"},"value":"#008000"}
}
},
{
"mark":{"type":"rule","strokeWidth":1.2,"x2Offset":1.6},
"encoding":{
"x":{"field":"d","type":"ordinal","title":null},
"x2":{"field":"d"},
"y":{"field":"c","type":"quantitative","scale":{"domain":[0.06,0.13087],"nice":false,"zero":false},
"axis":{"orient":"right","values":[0.06,0.065,0.07,0.075,0.08,0.085,0.09,0.095,0.1,0.105,0.11,0.115,0.12,0.125],"format":".3f","grid":true,"tickSize":-4,"labelPadding":6,
"title":"FNArena.com","titleX":-23,"titleY":37,"titleAngle":0,"titleAlign":"right","titleBaseline":"alphabetic","titleFontSize":19,"titleFontWeight":"normal","titleColor":"#cc0000"}},
"color":{"condition":{"test":"datum.pc != null && datum.c < datum.pc","value":"#dd0000"},"value":"#008000"}
}
}
]
},
{
"data":{"name":"leg"},
"mark":{"type":"point","filled":true,"opacity":0},
"encoding":{
"color":{"field":"k","type":"nominal",
"scale":{"domain":["Op:0.1, Hi:0.1, Lo:0.1, Cl:0.1","Vol: 0M","SMA (60): 0.093","SMA (200): 0.085","Consensus Target: 0 - 0"],"range":["#008000","#808080","#1262a8","#800020","#5f5f90"]},
"legend":{"title":null,"orient":"none","legendX":5,"legendY":1.5,"direction":"horizontal","symbolType":"square","symbolSize":72,"symbolStrokeColor":"#222222","symbolStrokeWidth":1,"symbolOpacity":1,"labelFont":"Liberation Sans","labelFontSize":11,"labelColor":"#222222","labelOffset":3,"columnPadding":21,"padding":0,"labelLimit":300}}
}
}
]
}
],
"resolve":{"scale":{"y":"independent"}},
"config":{
"view":{"stroke":"#8a8a8a","strokeWidth":1},
"font":"Liberation Sans",
"axis":{"labelFont":"Liberation Sans","labelFontSize":11,"labelColor":"#222222","tickColor":"#777777","domainColor":"#888888","gridColor":"#dddddd","gridWidth":1,"titleFont":"Liberation Sans"}
}
}
